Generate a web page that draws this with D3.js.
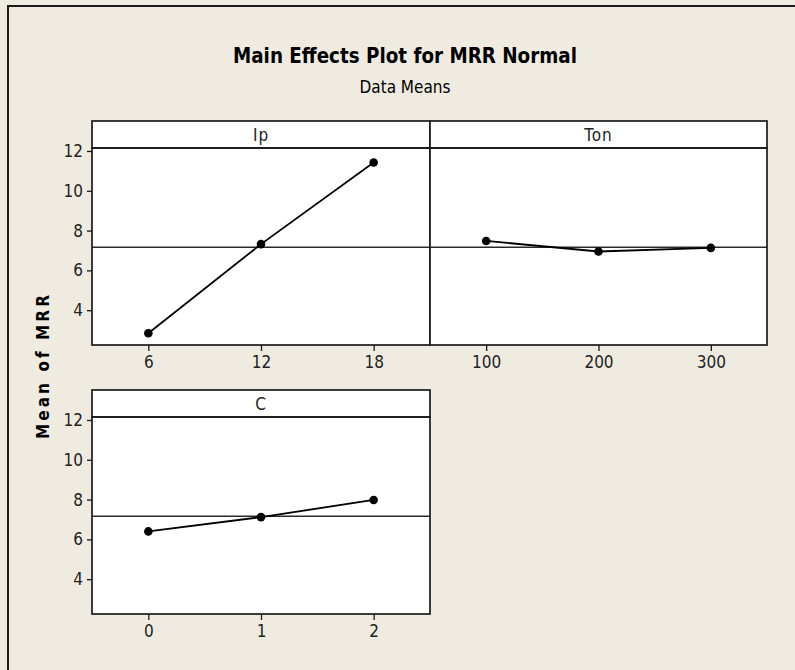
<!DOCTYPE html>
<html>
<head>
<meta charset="utf-8">
<script src="https://cdn.jsdelivr.net/npm/d3@7"></script>
<style>
  body { margin: 0; background: #efebe1; }
  svg { display: block; }
</style>
</head>
<body>
<div id="chart"></div>
<script>
// Factor levels and data means
const ipLevels = ["6", "12", "18"];
const ipMeans = [2.84, 7.32, 11.42];

const tonLevels = ["100", "200", "300"];
const tonMeans = [7.48, 6.95, 7.13];

const cLevels = ["0", "1", "2"];
const cMeans = [6.40, 7.12, 7.98];

const factorNames = ["Ip", "Ton", "C"];
const grandMean = 7.16;
const yTicks = [4, 6, 8, 10, 12];

const width = 795, height = 670;
const font = "'Liberation Sans Narrow', 'DejaVu Sans Condensed', 'Arial Narrow', sans-serif";

const svg = d3.select("#chart").append("svg")
    .attr("width", width)
    .attr("height", height);

// background + outer frame
svg.append("rect")
    .attr("x", 0).attr("y", 0)
    .attr("width", width).attr("height", height)
    .attr("fill", "#efebe1");
svg.append("rect")
    .attr("x", 8).attr("y", 6)
    .attr("width", width + 20).attr("height", height + 20)
    .attr("fill", "none")
    .attr("stroke", "#1a1a1a")
    .attr("stroke-width", 2);

// Titles
svg.append("text")
    .attr("x", 405).attr("y", 63)
    .attr("text-anchor", "middle")
    .style("font-family", font)
    .style("font-weight", "bold")
    .style("font-size", "21px")
    .attr("textLength", 344)
    .attr("lengthAdjust", "spacingAndGlyphs")
    .text("Main Effects Plot for MRR Normal");

svg.append("text")
    .attr("x", 405).attr("y", 93)
    .attr("text-anchor", "middle")
    .style("font-family", font)
    .style("font-size", "17px")
    .attr("textLength", 91)
    .attr("lengthAdjust", "spacingAndGlyphs")
    .text("Data Means");

// Y axis title
svg.append("text")
    .attr("transform", "translate(49,367) rotate(-90)")
    .attr("text-anchor", "middle")
    .style("font-family", font)
    .style("font-weight", "bold")
    .style("font-size", "17px")
    .attr("textLength", 144)
    .attr("lengthAdjust", "spacing")
    .text("Mean of MRR");

// panel boxes
const panels = [
    { name: factorNames[0], levels: ipLevels, means: ipMeans, x0: 92, x1: 430, y0: 121, yAxis: true },
    { name: factorNames[1], levels: tonLevels, means: tonMeans, x0: 430, x1: 767, y0: 121, yAxis: false },
    { name: factorNames[2], levels: cLevels, means: cMeans, x0: 92, x1: 430, y0: 390, yAxis: true }
];
const stripH = 27, plotH = 197;

panels.forEach(p => {
    const top = p.y0 + stripH;
    const bottom = top + plotH;

    const x = d3.scalePoint()
        .domain(p.levels)
        .range([p.x0, p.x1])
        .padding(0.5);

    const y = d3.scaleLinear()
        .domain([2.25, 12.15])
        .range([bottom, top]);

    const g = svg.append("g");

    // plot area
    g.append("rect")
        .attr("x", p.x0).attr("y", top)
        .attr("width", p.x1 - p.x0).attr("height", plotH)
        .attr("fill", "#fff");

    // strip
    g.append("rect")
        .attr("x", p.x0).attr("y", p.y0)
        .attr("width", p.x1 - p.x0).attr("height", stripH)
        .attr("fill", "#fff")
        .attr("stroke", "#1a1a1a")
        .attr("stroke-width", 1.7);

    g.append("text")
        .attr("x", (p.x0 + p.x1) / 2)
        .attr("y", p.y0 + 20)
        .attr("text-anchor", "middle")
        .style("font-family", font)
        .style("font-size", "17px")
        .style("letter-spacing", "1px")
        .attr("fill", "#222")
        .text(p.name);

    // reference line at the grand mean
    g.append("line")
        .attr("x1", p.x0).attr("x2", p.x1)
        .attr("y1", y(grandMean)).attr("y2", y(grandMean))
        .attr("stroke", "#2a2a2a")
        .attr("stroke-width", 1.5);

    // means line
    const line = d3.line()
        .x((d, i) => x(p.levels[i]))
        .y(d => y(d));
    g.append("path")
        .datum(p.means)
        .attr("d", line)
        .attr("fill", "none")
        .attr("stroke", "#000")
        .attr("stroke-width", 1.8);

    g.selectAll("circle")
        .data(p.means)
        .enter().append("circle")
        .attr("cx", (d, i) => x(p.levels[i]))
        .attr("cy", d => y(d))
        .attr("r", 4.3)
        .attr("fill", "#000");

    // frame
    g.append("rect")
        .attr("x", p.x0).attr("y", top)
        .attr("width", p.x1 - p.x0).attr("height", plotH)
        .attr("fill", "none")
        .attr("stroke", "#1a1a1a")
        .attr("stroke-width", 1.7);

    // x axis
    const xAxis = g.append("g")
        .attr("transform", "translate(0," + bottom + ")")
        .call(d3.axisBottom(x).tickSize(6).tickSizeOuter(0).tickPadding(5));
    xAxis.select(".domain").remove();
    xAxis.selectAll("line").attr("stroke", "#1a1a1a").attr("stroke-width", 1.3);
    xAxis.selectAll("text")
        .style("font-family", font)
        .style("font-size", "17px")
        .attr("fill", "#222");

    // y axis
    if (p.yAxis) {
        const yAxis = g.append("g")
            .attr("transform", "translate(" + p.x0 + ",0)")
            .call(d3.axisLeft(y).tickValues(yTicks).tickSize(5).tickSizeOuter(0).tickPadding(4));
        yAxis.select(".domain").remove();
        yAxis.selectAll("line").attr("stroke", "#1a1a1a").attr("stroke-width", 1.3);
        yAxis.selectAll("text")
            .style("font-family", font)
            .style("font-size", "17px")
            .attr("fill", "#222");
    }
});
</script>
</body>
</html>
